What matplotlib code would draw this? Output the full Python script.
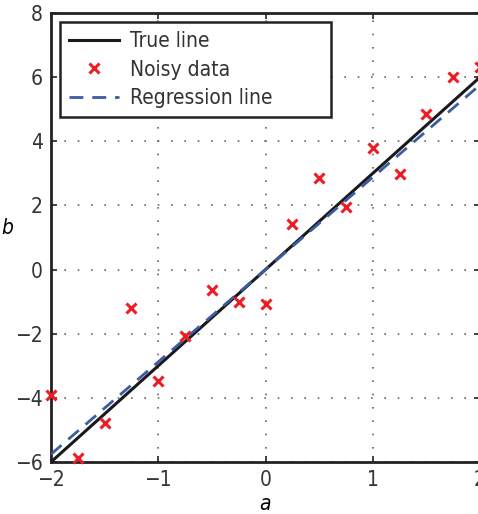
import numpy as np
import matplotlib
matplotlib.use("Agg")
import matplotlib.pyplot as plt

plt.rcParams['font.family'] = ['DejaVu Sans']
plt.rcParams['font.stretch'] = 'condensed'
plt.rcParams['mathtext.fontset'] = 'custom'
plt.rcParams['mathtext.it'] = 'DejaVu Sans:italic:stretch=condensed'
plt.rcParams['text.color'] = '#333333'
plt.rcParams['xtick.labelcolor'] = '#333333'
plt.rcParams['ytick.labelcolor'] = '#333333'

a_vals = [-2.0, -1.75, -1.5, -1.25, -1.0, -0.75, -0.5, -0.25, 0.0,
          0.25, 0.5, 0.75, 1.0, 1.25, 1.5, 1.75, 2.0]
b_noisy = [-3.9, -5.87, -4.78, -1.19, -3.47, -2.06, -0.63, -1.0, -1.06,
           1.41, 2.84, 1.94, 3.78, 2.97, 4.84, 6.0, 6.31]
true_slope = 3.0
xticks = [-2, -1, 0, 1, 2]
yticks = [-6, -4, -2, 0, 2, 4, 6, 8]

a = np.array(a_vals)
b = np.array(b_noisy)
# least squares fit through the origin
m = np.sum(a*b) / np.sum(a*a)
xs = np.array([-2.0, 2.0])

fig = plt.figure(figsize=(4.78, 5.14), dpi=100)
ax = fig.add_axes([51/478, (514-462)/514, (480-51)/478, (462-13)/514])

ax.plot(xs, true_slope*xs, color='#1a1a1a', lw=2.2, label='True line', zorder=3)
ax.plot(a, b, 'x', color='#ee1c25', ms=7, mew=2.2, label='Noisy data', zorder=4, clip_on=False)
ax.plot(xs, m*xs, '--', color='#3b5ba5', lw=2.0, dashes=(5, 3.2), label='Regression line', zorder=3)

ax.set_xlim(-2, 2)
ax.set_ylim(-6, 8)
ax.set_xticks(xticks)
ax.set_yticks(yticks)
ax.set_xticklabels(['\u22122', '\u22121', '0', '1', '2'])
ax.set_yticklabels(['\u22126', '\u22124', '\u22122', '0', '2', '4', '6', '8'])
ax.tick_params(direction='in', length=4, width=1.2, labelsize=15, color='#222222', pad=6,
               top=True, right=True)
ax.grid(True, linestyle=(0, (1, 7)), color='#666666', lw=1.2)
for s in ax.spines.values():
    s.set_linewidth(2.0)
    s.set_color('#222222')
ax.set_xlabel('$a$', fontsize=15, labelpad=3)
ax.set_ylabel('$b$', fontsize=15, rotation=0, labelpad=5)

leg = ax.legend(loc='upper left', fontsize=15, frameon=True, fancybox=False,
                edgecolor='#222222', framealpha=1, borderpad=0.45, handlelength=2.4,
                handletextpad=0.5, labelspacing=0.4, mode='expand',
                bbox_to_anchor=(0.021, 0.5, 0.631, 0.48), borderaxespad=0.0)
leg.get_frame().set_linewidth(1.8)

fig.savefig('out.png', dpi=100)
